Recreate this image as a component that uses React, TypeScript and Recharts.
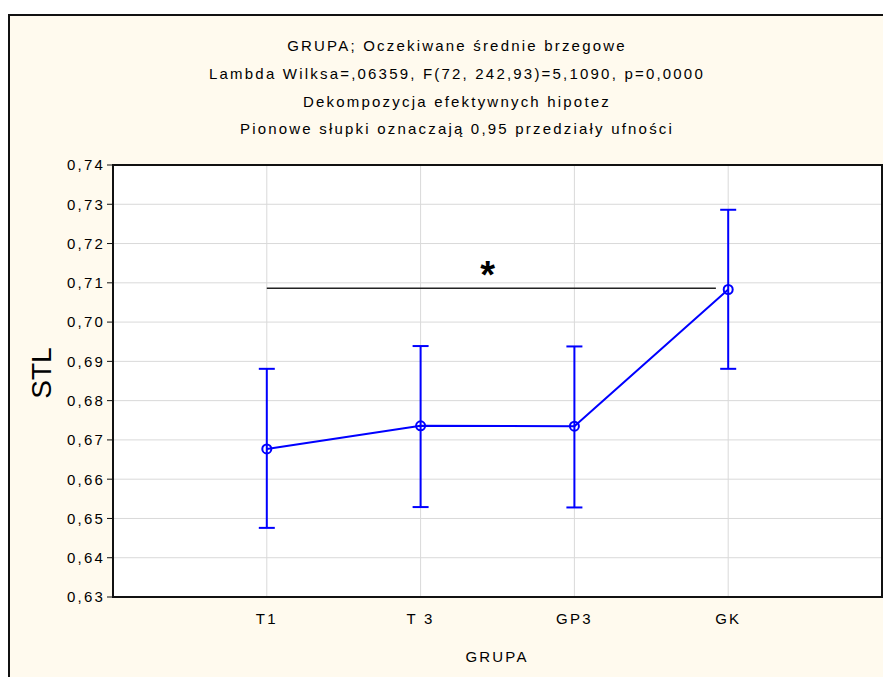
import React from "react";
import {
  ComposedChart,
  Line,
  ErrorBar,
  XAxis,
  YAxis,
  CartesianGrid,
  ReferenceLine,
  ReferenceDot,
  ReferenceArea,
} from "recharts";

// --- data ---
const groups = ["T1", "T 3", "GP3", "GK"];
const means = [0.6677, 0.6736, 0.6735, 0.7083];
const lower = [0.6476, 0.6529, 0.6528, 0.6881];
const upper = [0.6881, 0.6939, 0.6938, 0.7286];

const yTicks = [0.63, 0.64, 0.65, 0.66, 0.67, 0.68, 0.69, 0.7, 0.71, 0.72, 0.73, 0.74];
const xTicks = [1, 2, 3, 4];

const titleLines = [
  "GRUPA; Oczekiwane średnie brzegowe",
  "Lambda Wilksa=,06359, F(72, 242,93)=5,1090, p=0,0000",
  "Dekompozycja efektywnych hipotez",
  "Pionowe słupki oznaczają 0,95 przedziały ufności",
];

// significance bracket: from T1 to just before GK
const sigFrom = 1;
const sigTo = 3.92;
const sigLevel = 0.7086;
const sigStarX = 2.436;

const data = groups.map((g, i) => ({
  x: i + 1,
  name: g,
  mean: means[i],
  err: [means[i] - lower[i], upper[i] - means[i]],
}));

const FONT = "'Liberation Sans', Arial, sans-serif";
const BLUE = "#0000ff";

const fmtY = (v: number) => v.toFixed(2).replace(".", ",");
const fmtX = (v: number) => groups[v - 1] ?? "";

const tickStyle = { fontSize: 15, fill: "#000", fontFamily: FONT, letterSpacing: 2.2 };

export default function App() {
  return (
    <div
      style={{
        position: "relative",
        marginTop: 6,
        width: 883,
        height: 663,
        boxSizing: "border-box",
        borderLeft: "2px solid #111",
        borderTop: "2px solid #111",
        background: "#fffaee",
        fontFamily: FONT,
        overflow: "hidden",
      }}
    >
      {titleLines.map((t, i) => (
        <div
          key={i}
          style={{
            position: "absolute",
            left: 447,
            top: [29, 57, 85, 112][i],
            transform: "translate(-50%, -50%)",
            whiteSpace: "nowrap",
            fontSize: 15,
            lineHeight: 1,
            letterSpacing: 2.2,
            color: "#000",
          }}
        >
          {t}
        </div>
      ))}
      <div
        style={{
          position: "absolute",
          left: 32,
          top: 357,
          transform: "translate(-50%, -50%) rotate(-90deg)",
          fontSize: 28,
          lineHeight: 1,
          color: "#000",
        }}
      >
        STL
      </div>
      <div
        style={{
          position: "absolute",
          left: 487,
          top: 640,
          transform: "translate(-50%, -50%)",
          fontSize: 15,
          lineHeight: 1,
          letterSpacing: 2.2,
          color: "#000",
        }}
      >
        GRUPA
      </div>
      <ComposedChart
        width={881}
        height={661}
        data={data}
        margin={{ top: 149, right: 9, bottom: 20, left: 0 }}
      >
        <CartesianGrid stroke="#d9d9d9" strokeWidth={1} fill="#ffffff" />
        <XAxis
          dataKey="x"
          type="number"
          domain={[0, 5]}
          ticks={xTicks}
          tickFormatter={fmtX}
          tickLine={false}
          tickMargin={10}
          axisLine={{ stroke: "#111", strokeWidth: 2 }}
          tick={tickStyle}
          height={60}
          interval={0}
        />
        <YAxis
          type="number"
          domain={[0.63, 0.74]}
          ticks={yTicks}
          tickFormatter={fmtY}
          tickSize={6}
          tickLine={{ stroke: "#111" }}
          axisLine={{ stroke: "#111", strokeWidth: 2 }}
          tick={tickStyle}
          width={103}
          interval={0}
          allowDataOverflow
        />
        <ReferenceArea
          x1={0}
          x2={5}
          y1={0.63}
          y2={0.74}
          fill="none"
          stroke="#111"
          strokeWidth={2}
          ifOverflow="visible"
        />
        <ReferenceLine
          segment={[
            { x: sigFrom, y: sigLevel },
            { x: sigTo, y: sigLevel },
          ]}
          stroke="#222"
          strokeWidth={1.5}
        />
        <ReferenceDot
          x={sigStarX}
          y={sigLevel}
          r={0}
          fill="none"
          stroke="none"
          label={{
            value: "*",
            position: "top",
            offset: 0,
            fontSize: 38,
            fontWeight: "bold",
            fill: "#000",
            fontFamily: FONT,
          }}
        />
        <Line
          dataKey="mean"
          stroke={BLUE}
          strokeWidth={2}
          dot={{ r: 4.5, stroke: BLUE, strokeWidth: 2, fill: "none" }}
          activeDot={false}
          isAnimationActive={false}
        >
          <ErrorBar dataKey="err" width={8} stroke={BLUE} strokeWidth={2} direction="y" isAnimationActive={false} />
        </Line>
      </ComposedChart>
    </div>
  );
}
